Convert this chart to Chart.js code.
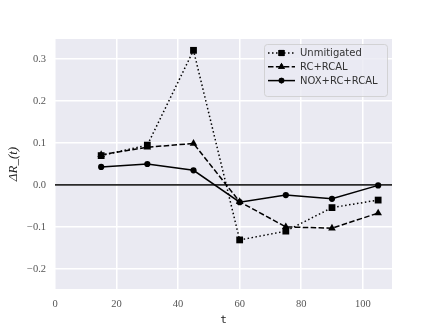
<!DOCTYPE html>
<html>
<head>
<meta charset="utf-8">
<script src="https://cdn.jsdelivr.net/npm/chart.js@4.4.1/dist/chart.umd.min.js"></script>
<style>
  html, body { margin: 0; padding: 0; background: #fff; }
  #wrap { width: 436px; height: 327px; }
</style>
</head>
<body>
<div id="wrap"><canvas id="chart" width="436" height="327"></canvas></div>
<script>
// data
const tValues = [15, 30, 45, 60, 75, 90, 105];
const unmitigated = [0.070, 0.095, 0.321, -0.131, -0.110, -0.054, -0.036];
const rcRcal = [0.072, 0.090, 0.099, -0.040, -0.100, -0.103, -0.067];
const noxRcRcal = [0.043, 0.050, 0.035, -0.041, -0.024, -0.033, -0.001];
const xTicks = [0, 20, 40, 60, 80, 100];
const yTicks = [-0.2, -0.1, 0.0, 0.1, 0.2, 0.3];

const serif = '"Liberation Serif", "DejaVu Serif", serif';
const sans = '"DejaVu Sans", sans-serif';

function series(label, values, style, dash, radius) {
  return {
    label: label,
    data: tValues.map((t, i) => ({ x: t, y: values[i] })),
    borderColor: '#000',
    backgroundColor: '#000',
    borderWidth: 1.5,
    borderDash: dash,
    borderCapStyle: 'butt',
    pointStyle: style,
    pointRadius: radius,
    pointBorderWidth: 0,
    tension: 0
  };
}

const datasets = [
  series('Unmitigated', unmitigated, 'rect', [1.5, 2.5], 4.8),
  series('RC+RCAL', rcRcal, 'triangle', [5.5, 2.4], 4.4),
  series('NOX+RC+RCAL', noxRcRcal, 'circle', [], 3.1)
];

// plot background
const bgPlugin = {
  id: 'bg',
  beforeDraw(chart) {
    const a = chart.chartArea, ctx = chart.ctx;
    ctx.save();
    ctx.fillStyle = '#EAEAF2';
    ctx.fillRect(a.left, a.top, a.right - a.left, a.bottom - a.top);
    ctx.restore();
  }
};

// legend inside the axes, upper right
const legendPlugin = {
  id: 'innerLegend',
  afterDraw(chart) {
    const a = chart.chartArea, ctx = chart.ctx;
    const w = 123, h = 52;
    const x0 = a.right - w - 5, y0 = a.top + 5;
    ctx.save();
    ctx.fillStyle = 'rgba(234,234,242,0.8)';
    ctx.strokeStyle = '#cccccc';
    ctx.lineWidth = 0.8;
    ctx.beginPath();
    ctx.roundRect(x0 + 0.5, y0 + 0.5, w, h, 3);
    ctx.fill();
    ctx.stroke();
    ctx.font = '10px ' + sans;
    ctx.textBaseline = 'middle';
    chart.data.datasets.forEach((ds, i) => {
      const y = y0 + 9 + i * 13.8;
      ctx.strokeStyle = '#000';
      ctx.lineWidth = 1.5;
      ctx.lineCap = 'butt';
      ctx.setLineDash(ds.borderDash);
      ctx.beginPath();
      ctx.moveTo(x0 + 4, y);
      ctx.lineTo(x0 + 31, y);
      ctx.stroke();
      ctx.setLineDash([]);
      ctx.fillStyle = '#000';
      Chart.helpers.drawPoint(ctx, { pointStyle: ds.pointStyle, radius: ds.pointRadius * 0.9, borderWidth: 0 }, x0 + 17.5, y);
      ctx.fill();
      ctx.fillStyle = '#333';
      ctx.fillText(ds.label, x0 + 36, y + 0.5);
    });
    ctx.restore();
  }
};

new Chart(document.getElementById('chart'), {
  type: 'line',
  data: { datasets: datasets },
  plugins: [bgPlugin, legendPlugin],
  options: {
    responsive: false,
    animation: false,
    layout: { padding: { left: 0, right: 44, top: 39, bottom: 0 } },
    plugins: { legend: { display: false }, tooltip: { enabled: false } },
    scales: {
      x: {
        type: 'linear',
        min: 0,
        max: 109.5,
        border: { display: false },
        afterBuildTicks: s => { s.ticks = xTicks.map(v => ({ value: v })); },
        afterFit: s => { s.height = 38; },
        grid: { color: '#fff', lineWidth: 1.5, drawTicks: false },
        ticks: { color: '#555', font: { family: serif, size: 10.5 }, padding: 9 },
        title: { display: true, text: 't', color: '#222', font: { family: '"DejaVu Sans Mono", monospace', size: 11 }, padding: { top: 1, bottom: 0 } }
      },
      y: {
        min: -0.248,
        max: 0.348,
        border: { display: false },
        afterBuildTicks: s => { s.ticks = yTicks.map(v => ({ value: v })); },
        afterFit: s => { s.width = 55; },
        grid: {
          color: c => (c.tick && Math.abs(c.tick.value) < 1e-9 ? '#2b2b2b' : '#fff'),
          lineWidth: c => (c.tick && Math.abs(c.tick.value) < 1e-9 ? 1.7 : 1.5),
          drawTicks: false
        },
        ticks: { color: '#555', font: { family: serif, size: 10.5 }, padding: 9, callback: v => v.toFixed(1).replace('-', '\u2212') },
        title: { display: true, text: '\u0394R_(t)', color: '#222', font: { family: serif, size: 13, style: 'italic' }, padding: { top: 6, bottom: 0 } }
      }
    }
  }
});
</script>
</body>
</html>
